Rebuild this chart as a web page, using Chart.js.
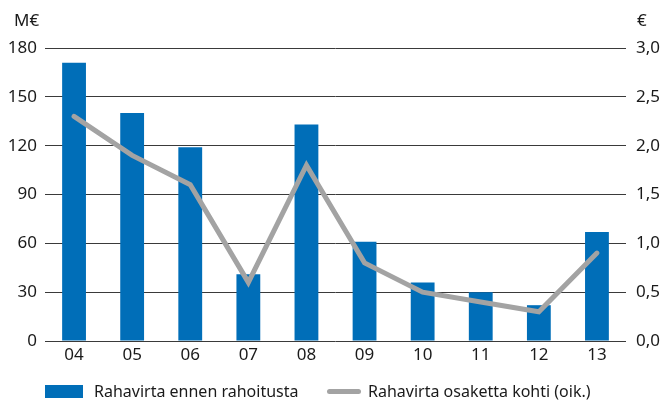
<!DOCTYPE html>
<html>
<head>
<meta charset="utf-8">
<script src="https://cdn.jsdelivr.net/npm/chart.js@4/dist/chart.umd.min.js"></script>
<style>
  body { margin: 0; background: #fff; font-family: "Noto Sans", sans-serif; color: #1a1a1a; }
  #wrap { position: relative; width: 663px; height: 401px; }
  .unit { position: absolute; top: 8px; font-size: 17px; }
  .legend { position: absolute; top: 380px; font-size: 16px; display: flex; align-items: center; white-space: nowrap; }
  .swatch-bar { width: 38px; height: 13px; background: #006eb8; margin-right: 11px; }
  .swatch-line { width: 34px; height: 5px; border-radius: 3px; background: #a3a3a3; margin-right: 7px; }
</style>
</head>
<body>
<div id="wrap">
  <canvas id="cashflow" width="663" height="401"></canvas>
  <div class="unit" style="left:14px;">M€</div>
  <div class="unit" style="left:637px;">€</div>
  <div class="legend" style="left:45px;"><span class="swatch-bar"></span>Rahavirta ennen rahoitusta</div>
  <div class="legend" style="left:327px;"><span class="swatch-line"></span>Rahavirta osaketta kohti (oik.)</div>
</div>
<script>
var years = ["04", "05", "06", "07", "08", "09", "10", "11", "12", "13"];
// M€, left axis
var cashFlowBeforeFinancing = [171, 140, 119, 41, 133, 61, 36, 30, 22, 67];
// €, right axis
var cashFlowPerShare = [2.3, 1.9, 1.6, 0.6, 1.8, 0.8, 0.5, 0.4, 0.3, 0.9];
var leftTicks = [0, 30, 60, 90, 120, 150, 180];
var rightTicks = [0, 0.5, 1, 1.5, 2, 2.5, 3];

var tickFont = { family: "Noto Sans", size: 17 };

var ctx = document.getElementById("cashflow").getContext("2d");
var chart = new Chart(ctx, {
    type: 'bar',
    data: {
        labels: years,
        datasets: [{
            type: 'line',
            label: 'Rahavirta osaketta kohti (oik.)',
            data: cashFlowPerShare,
            yAxisID: 'yRight',
            borderColor: '#a3a3a3',
            borderWidth: 5,
            pointRadius: 0,
            tension: 0,
            borderCapStyle: 'round',
            borderJoinStyle: 'miter',
            order: 0
        }, {
            type: 'bar',
            label: 'Rahavirta ennen rahoitusta',
            data: cashFlowBeforeFinancing,
            yAxisID: 'yLeft',
            backgroundColor: '#006eb8',
            categoryPercentage: 1,
            barPercentage: 0.41,
            order: 1
        }]
    },
    options: {
        responsive: false,
        animation: false,
        layout: { padding: { top: 48, bottom: 30, left: 0, right: 0 } },
        plugins: {
            legend: { display: false },
            tooltip: { enabled: false }
        },
        scales: {
            x: {
                grid: { display: false, drawTicks: false },
                border: { display: false },
                ticks: { color: '#1a1a1a', font: tickFont, padding: 4 },
                afterFit: function(scale) { scale.height = 30; }
            },
            yLeft: {
                position: 'left',
                min: 0,
                max: 180,
                afterBuildTicks: function(scale) {
                    scale.ticks = leftTicks.map(function(v) { return { value: v }; });
                },
                grid: { color: '#3a3a3a', lineWidth: 1, drawTicks: false },
                border: { display: false },
                ticks: { color: '#1a1a1a', font: tickFont, padding: 8 },
                afterFit: function(scale) { scale.width = 45; }
            },
            yRight: {
                position: 'right',
                min: 0,
                max: 3,
                afterBuildTicks: function(scale) {
                    scale.ticks = rightTicks.map(function(v) { return { value: v }; });
                },
                grid: { display: false, drawTicks: false },
                border: { display: false },
                ticks: {
                    color: '#1a1a1a',
                    font: tickFont,
                    padding: 10,
                    callback: function(value) { return value.toFixed(1).replace('.', ','); }
                },
                afterFit: function(scale) { scale.width = 37; }
            }
        }
    }
});
</script>
</body>
</html>
